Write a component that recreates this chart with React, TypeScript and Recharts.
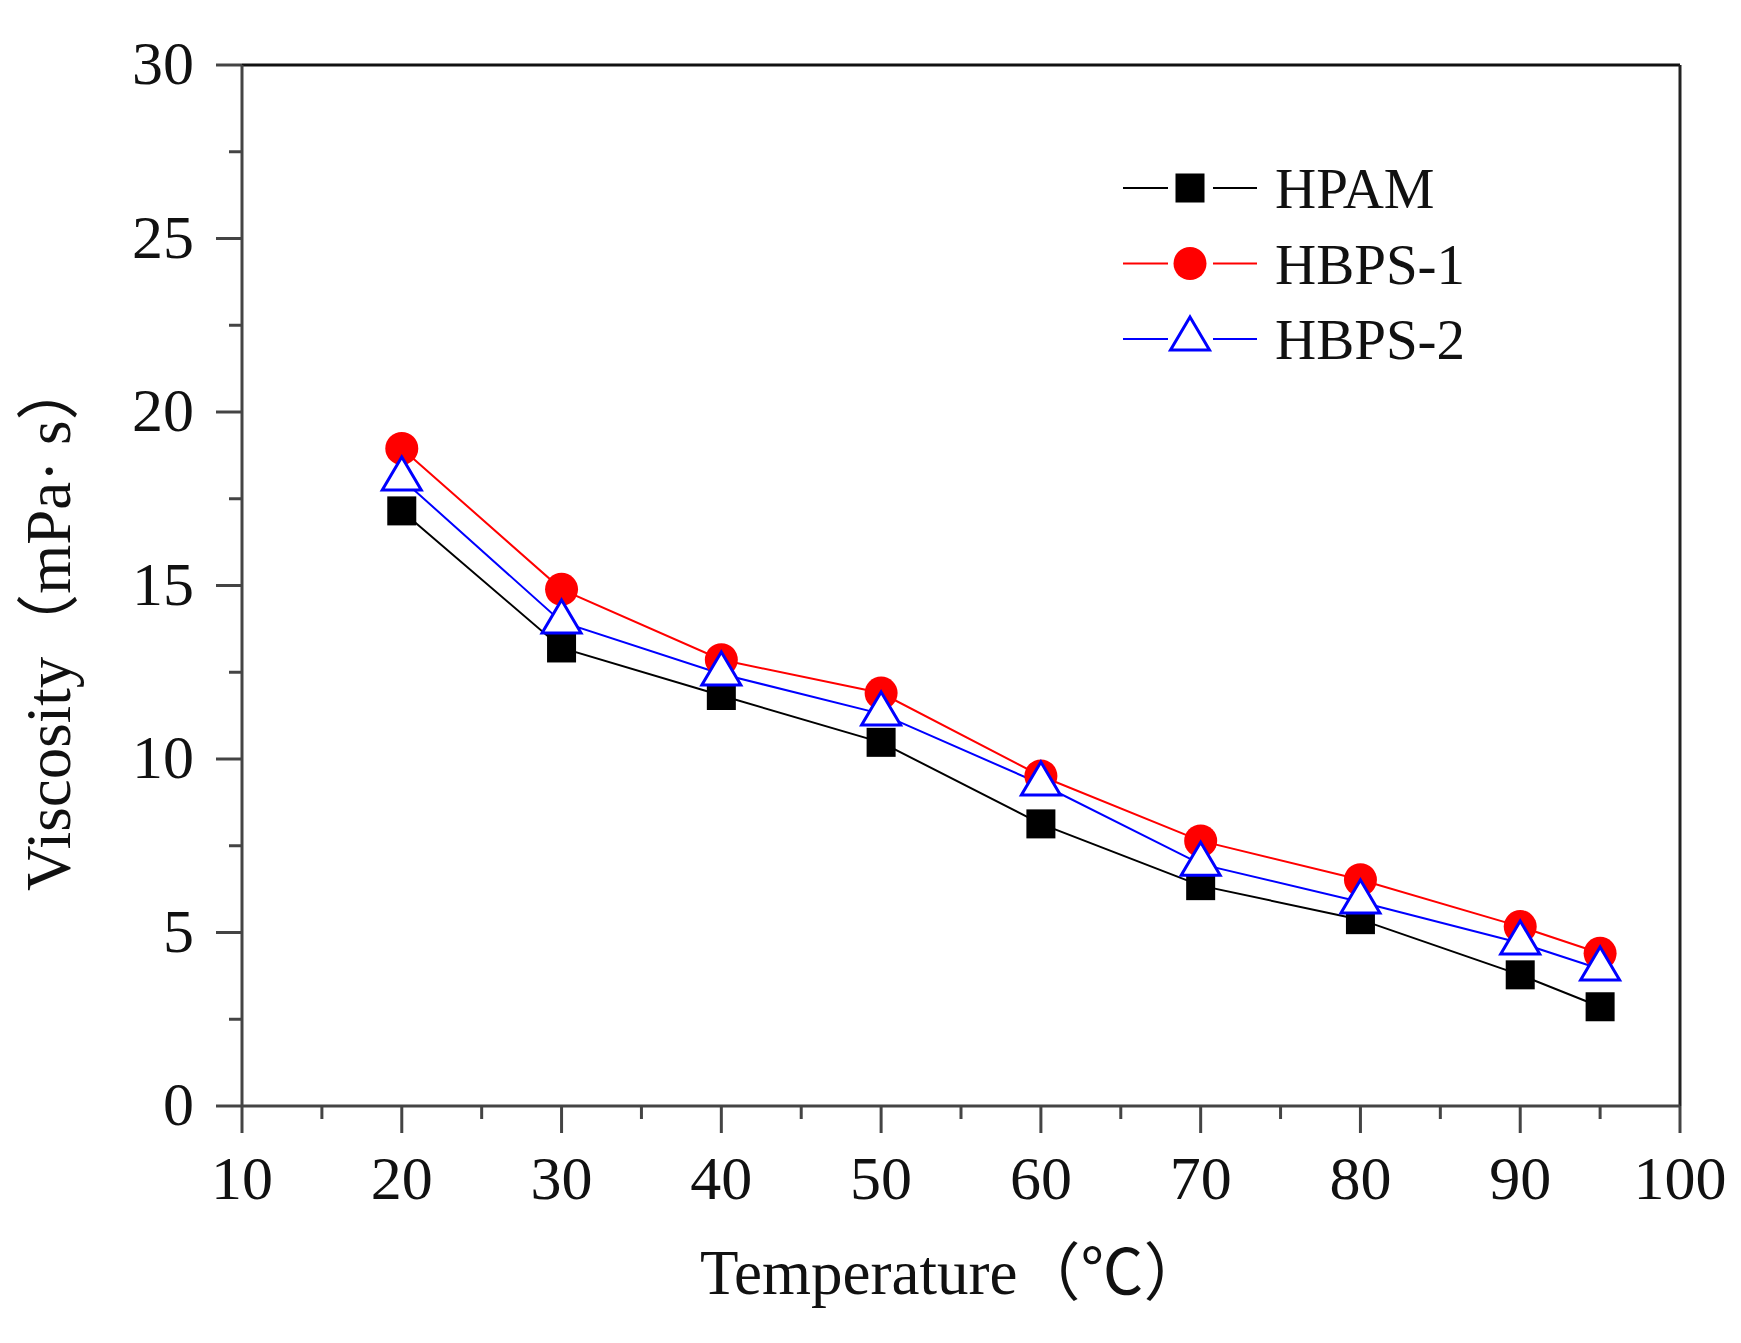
import { LineChart, Line, XAxis, YAxis, Legend, Label, ReferenceLine } from "recharts";

const temperatures = [20, 30, 40, 50, 60, 70, 80, 90, 95];
const hpam = [17.15, 13.2, 11.83, 10.48, 8.13, 6.35, 5.37, 3.78, 2.86];
const hbps1 = [18.95, 14.89, 12.86, 11.9, 9.51, 7.64, 6.52, 5.17, 4.4];
const hbps2 = [18.07, 13.95, 12.45, 11.3, 9.28, 6.97, 5.88, 4.7, 3.95];

const seriesKeys = ["hpam", "hbps1", "hbps2"];
const seriesNames = ["HPAM", "HBPS-1", "HBPS-2"];
const seriesColors = ["#000000", "#ff0000", "#0000ff"];
const seriesMarkers = ["square", "circle", "triangle"];

const xTicks = [10, 15, 20, 25, 30, 35, 40, 45, 50, 55, 60, 65, 70, 75, 80, 85, 90, 95, 100];
const yTicks = [0, 2.5, 5, 7.5, 10, 12.5, 15, 17.5, 20, 22.5, 25, 27.5, 30];

const data = temperatures.map((t, i) => ({
  t,
  hpam: hpam[i],
  hbps1: hbps1[i],
  hbps2: hbps2[i],
}));

const SERIF = '"Liberation Serif", "Times New Roman", "Noto Sans CJK SC", serif';
const AXIS = "#444";

const Marker = ({ kind, cx, cy, color }: { kind: string; cx: number; cy: number; color: string }) => {
  if (kind === "square") {
    return <rect x={cx - 14.5} y={cy - 14.5} width={29} height={29} fill={color} />;
  }
  if (kind === "circle") {
    return <circle cx={cx} cy={cy} r={16.5} fill={color} />;
  }
  return (
    <path
      d={`M${cx},${cy - 22}L${cx + 19.5},${cy + 11}L${cx - 19.5},${cy + 11}Z`}
      fill="#fff"
      stroke={color}
      strokeWidth={3}
    />
  );
};

const XTick = ({ x, y, payload }: any) => {
  const major = payload.value % 10 === 0;
  return (
    <g>
      <line x1={x} x2={x} y1={y} y2={y + (major ? 27 : 13)} stroke={AXIS} strokeWidth={3} />
      {major && (
        <text x={x} y={y + 93} textAnchor="middle" fontFamily={SERIF} fontSize={62} fill="#111">
          {payload.value}
        </text>
      )}
    </g>
  );
};

const YTick = ({ x, y, payload }: any) => {
  const major = payload.value % 5 === 0;
  return (
    <g>
      <line x1={x} x2={x - (major ? 26 : 13)} y1={y} y2={y} stroke={AXIS} strokeWidth={3} />
      {major && (
        <text x={x - 48} y={y + 19} textAnchor="end" fontFamily={SERIF} fontSize={62} fill="#111">
          {payload.value}
        </text>
      )}
    </g>
  );
};

// legend rows follow the series order, not the library's sorted payload
const LegendBox = ({ payload }: any) => (
  <svg width={420} height={250}>
    {(payload || []).map((entry: any) => {
      const idx = seriesKeys.indexOf(entry.dataKey);
      const cy = 58 + idx * 75.5;
      return (
        <g key={entry.dataKey}>
          <line x1={23} x2={68} y1={cy} y2={cy} stroke={seriesColors[idx]} strokeWidth={2} />
          <line x1={113} x2={157} y1={cy} y2={cy} stroke={seriesColors[idx]} strokeWidth={2} />
          <Marker kind={seriesMarkers[idx]} cx={90} cy={cy} color={seriesColors[idx]} />
          <text x={175} y={cy + 20} fontFamily={SERIF} fontSize={57} fill="#111">
            {entry.value}
          </text>
        </g>
      );
    })}
  </svg>
);

export default function App() {
  return (
    <div style={{ width: 1733, height: 1335, background: "#fff" }}>
      <LineChart
        width={1733}
        height={1335}
        data={data}
        margin={{ top: 57, right: 61, bottom: 0, left: 0 }}
      >
        <XAxis
          dataKey="t"
          type="number"
          domain={[10, 100]}
          ticks={xTicks}
          interval={0}
          height={237}
          tickSize={0}
          tickMargin={0}
          tickLine={false}
          tick={<XTick />}
          axisLine={{ stroke: AXIS, strokeWidth: 3 }}
        >
          <Label
            content={() => (
              <text x={692} y={1286} fontFamily={SERIF} fontSize={63} fill="#111">
                Temperature（℃）
              </text>
            )}
          />
        </XAxis>
        <YAxis
          type="number"
          domain={[0, 30]}
          ticks={yTicks}
          interval={0}
          width={234}
          tickSize={0}
          tickMargin={0}
          tickLine={false}
          tick={<YTick />}
          axisLine={{ stroke: AXIS, strokeWidth: 3 }}
        >
          <Label
            content={() => (
              <text
                x={62}
                y={883}
                transform="rotate(-90, 62, 883)"
                fontFamily={SERIF}
                fontSize={63}
                fill="#111"
              >
                Viscosity（mPa· s）
              </text>
            )}
          />
        </YAxis>
        <ReferenceLine y={30} stroke="#111" strokeWidth={3} />
        <ReferenceLine x={100} stroke="#222" strokeWidth={3} />
        <Legend
          layout="horizontal"
          verticalAlign="middle"
          align="center"
          content={<LegendBox />}
          wrapperStyle={{ position: "absolute", left: 1092, top: 122, width: 420, height: 250 }}
        />
        {seriesKeys.map((key, i) => (
          <Line
            key={key}
            dataKey={key}
            name={seriesNames[i]}
            type="linear"
            stroke={seriesColors[i]}
            strokeWidth={2}
            isAnimationActive={false}
            activeDot={false}
            dot={(p: any) => (
              <Marker
                key={`${key}-${p.index}`}
                kind={seriesMarkers[i]}
                cx={p.cx}
                cy={p.cy}
                color={seriesColors[i]}
              />
            )}
          />
        ))}
      </LineChart>
    </div>
  );
}
